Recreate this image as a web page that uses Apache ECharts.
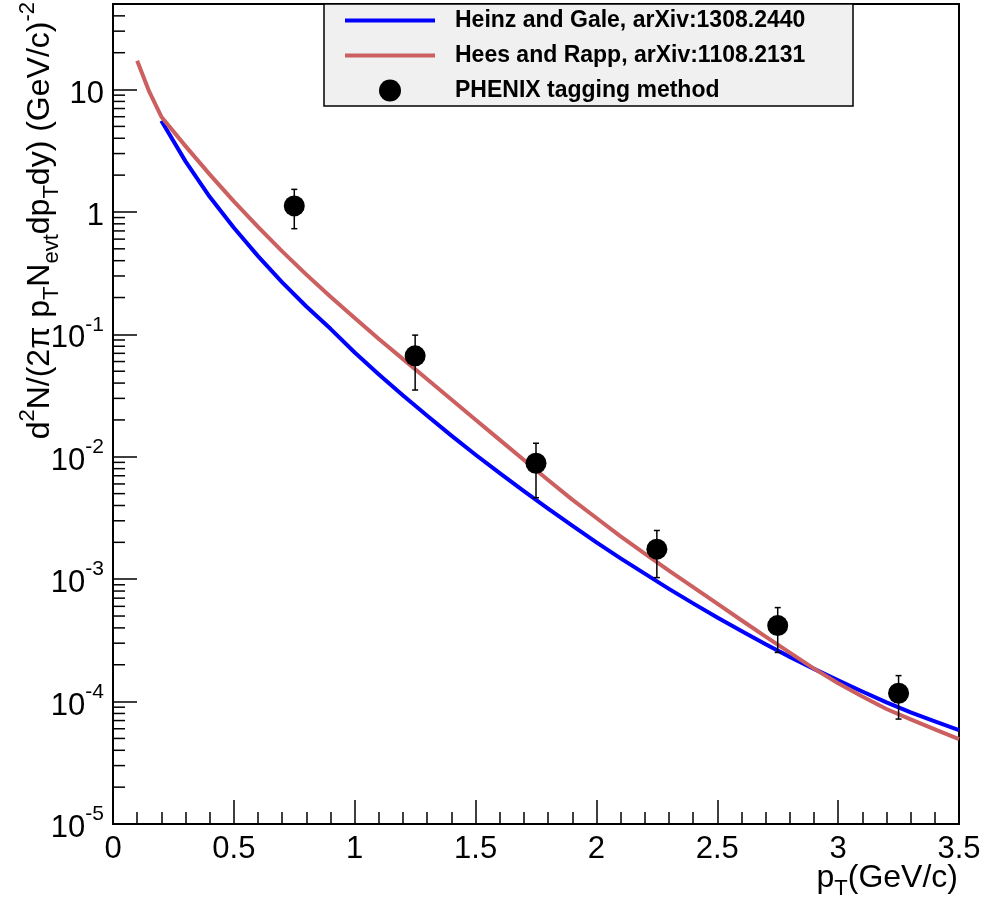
<!DOCTYPE html>
<html>
<head>
<meta charset="utf-8">
<script src="https://cdn.jsdelivr.net/npm/echarts@6/dist/echarts.min.js"></script>
<style>
html,body{margin:0;padding:0;background:#fff;}
#chart{width:986px;height:903px;}
</style>
</head>
<body>
<div id="chart"></div>
<script>
// ---- data ----
const heinzX = [0.2,0.3,0.4,0.5,0.6,0.7,0.8,0.9,1.0,1.1,1.2,1.3,1.4,1.5,1.6,1.7,1.8,1.9,2.0,2.1,2.2,2.3,2.4,2.5,2.6,2.7,2.8,2.9,3.0,3.1,3.2,3.3,3.4,3.5];
const heinzY = [5.56,2.59,1.33,0.743,0.436,0.266,0.169,0.111,0.0711,0.0470,0.0316,0.0216,0.0149,0.0104,0.00735,0.00524,0.00377,0.00274,0.00200,0.00148,0.00111,8.34e-4,6.34e-4,4.86e-4,3.77e-4,2.94e-4,2.32e-4,1.85e-4,1.49e-4,1.21e-4,9.86e-5,8.15e-5,6.90e-5,5.85e-5];
const heesX = [0.1,0.15,0.2,0.3,0.4,0.5,0.6,0.7,0.8,0.9,1.0,1.1,1.2,1.3,1.4,1.5,1.6,1.7,1.8,1.9,2.0,2.1,2.2,2.3,2.4,2.5,2.6,2.7,2.8,2.9,3.0,3.1,3.2,3.3,3.4,3.5];
const heesY = [17.2,9.6,6.0,3.45,2.03,1.22,0.755,0.476,0.308,0.203,0.136,0.0918,0.0628,0.0430,0.0294,0.0201,0.01374,0.00940,0.00646,0.00447,0.00316,0.00224,0.00162,1.175e-3,8.61e-4,6.31e-4,4.62e-4,3.39e-4,2.51e-4,1.86e-4,1.41e-4,1.10e-4,8.7e-5,7.16e-5,5.92e-5,4.94e-5];
const phenixX = [0.75,1.25,1.75,2.25,2.75,3.25];
const phenixY = [1.12,0.0668,0.00885,0.00176,4.18e-4,1.17e-4];
const phenixLow = [0.73,0.0351,0.00463,0.00103,2.52e-4,7.2e-5];
const phenixHigh = [1.53,0.0986,0.0129,0.00250,5.86e-4,1.63e-4];
const seriesNames = ['Heinz and Gale, arXiv:1308.2440','Hees and Rapp, arXiv:1108.2131','PHENIX tagging method'];
const xTitle = ['p','T','(GeV/c)'];
const yMin = 1e-5, yMax = 50;
const xMin = 0, xMax = 3.5, xStep = 0.5;
// minor tick values on the log axis
const yMinorTicks = [];
for (let k = -5; k <= 1; k++) for (let m = 2; m <= 9; m++) { const v = m * Math.pow(10, k); if (v < yMax) yMinorTicks.push(v); }

const FONT = 'Liberation Sans, Arial, Helvetica, sans-serif';
const zip = (xs, ys) => xs.map((x, i) => [x, ys[i]]);
const BLUE = '#0000ff', RED = '#cc5f5f';

const chart = echarts.init(document.getElementById('chart'));
const option = {
  animation: false,
  backgroundColor: '#fff',
  grid: { left: 113, right: 27, top: 4, bottom: 79, show: true, borderColor: '#000', borderWidth: 2, backgroundColor: 'transparent' },
  xAxis: {
    type: 'value', min: xMin, max: xMax, interval: xStep,
    axisLine: { show: true, onZero: false, lineStyle: { color: '#000', width: 2 } },
    axisTick: { show: true, inside: true, length: 24, lineStyle: { color: '#000', width: 1.5 } },
    minorTick: { show: true, splitNumber: 5, length: 12, lineStyle: { color: '#000', width: 1.5 } },
    axisLabel: { color: '#000', fontFamily: FONT, fontSize: 31, margin: 10 },
    splitLine: { show: false }
  },
  yAxis: {
    type: 'log', logBase: 10, min: yMin, max: yMax,
    axisLine: { show: true, lineStyle: { color: '#000', width: 2 } },
    axisTick: { show: true, inside: true, length: 24, lineStyle: { color: '#000', width: 1.5 } },
    axisLabel: {
      color: '#000', fontFamily: FONT, margin: 9,
      formatter: function (v) {
        const l = Math.log10(v); const k = Math.round(l);
        if (Math.abs(l - k) > 1e-6) return '';
        if (k === 0) return '{b|1}';
        if (k === 1) return '{b|10}';
        return '{b|10}{s|' + k + '}';
      },
      rich: {
        b: { fontSize: 31, fontFamily: FONT, color: '#000', lineHeight: 40, verticalAlign: 'bottom' },
        s: { fontSize: 21, fontFamily: FONT, color: '#000', lineHeight: 40, verticalAlign: 'top' }
      }
    },
    splitLine: { show: false }
  },
  legend: {
    orient: 'vertical', left: 343, top: 9, padding: 0, itemGap: 12,
    itemWidth: 90, itemHeight: 22, z: 10,
    data: [
      { name: seriesNames[0], itemStyle: { opacity: 0 }, lineStyle: { width: 4, color: BLUE } },
      { name: seriesNames[1], itemStyle: { opacity: 0 }, lineStyle: { width: 4, color: RED } },
      { name: seriesNames[2] }
    ],
    textStyle: { fontFamily: FONT, fontWeight: 'bold', fontSize: 23, color: '#000', padding: [0, 0, 0, 15], lineHeight: 22 }
  },
  graphic: {
    elements: [
      { type: 'rect', z: 3, shape: { x: 324, y: 4, width: 529, height: 102 }, style: { fill: '#f0f0f0', stroke: '#000', lineWidth: 1.5 } },
      {
        type: 'text', x: 40, y: 2, rotation: Math.PI / 2, z: 5,
        style: {
          text: '{m|d}{sp|2}{m|N/(2π p}{sb|T}{m|N}{sb|evt}{m|dp}{sb|T}{m|dy) (GeV/c)}{sp|-2}',
          align: 'right', verticalAlign: 'middle',
          rich: {
            m: { fontSize: 32, fontFamily: FONT, fill: '#000', lineHeight: 46, verticalAlign: 'middle' },
            sp: { fontSize: 22, fontFamily: FONT, fill: '#000', lineHeight: 46, verticalAlign: 'top' },
            sb: { fontSize: 22, fontFamily: FONT, fill: '#000', lineHeight: 46, verticalAlign: 'bottom' }
          }
        }
      },
      {
        type: 'text', x: 958, y: 878, z: 5,
        style: {
          text: '{m|' + xTitle[0] + '}{sb|' + xTitle[1] + '}{m|' + xTitle[2] + '}',
          align: 'right', verticalAlign: 'middle',
          rich: {
            m: { fontSize: 32, fontFamily: FONT, fill: '#000', lineHeight: 44, verticalAlign: 'middle' },
            sb: { fontSize: 22, fontFamily: FONT, fill: '#000', lineHeight: 44, verticalAlign: 'bottom' }
          }
        }
      }
    ]
  },
  series: [
    {
      name: seriesNames[0], type: 'line', data: zip(heinzX, heinzY), symbol: 'none', smooth: false,
      lineStyle: { color: BLUE, width: 4, join: 'round' }, itemStyle: { color: BLUE }, z: 2
    },
    {
      name: seriesNames[1], type: 'line', data: zip(heesX, heesY), symbol: 'none', smooth: false,
      lineStyle: { color: RED, width: 4, join: 'round' }, itemStyle: { color: RED }, z: 2
    },
    {
      name: 'minorY', type: 'custom', silent: true, z: 1, clip: false,
      data: yMinorTicks.map(v => [xMin, v]),
      renderItem: function (params, api) {
        const p = api.coord([api.value(0), api.value(1)]);
        return { type: 'line', shape: { x1: p[0], y1: p[1], x2: p[0] + 12, y2: p[1] }, style: { stroke: '#000', lineWidth: 1.5 } };
      }
    },
    {
      name: 'errors', type: 'custom', z: 3,
      data: phenixX.map((x, i) => [x, phenixLow[i], phenixHigh[i]]),
      renderItem: function (params, api) {
        const lo = api.coord([api.value(0), api.value(1)]);
        const hi = api.coord([api.value(0), api.value(2)]);
        const c = 3;
        return {
          type: 'group', children: [
            { type: 'line', shape: { x1: lo[0], y1: lo[1], x2: hi[0], y2: hi[1] }, style: { stroke: '#000', lineWidth: 1.5 } },
            { type: 'line', shape: { x1: lo[0] - c, y1: lo[1], x2: lo[0] + c, y2: lo[1] }, style: { stroke: '#000', lineWidth: 1.5 } },
            { type: 'line', shape: { x1: hi[0] - c, y1: hi[1], x2: hi[0] + c, y2: hi[1] }, style: { stroke: '#000', lineWidth: 1.5 } }
          ]
        };
      }
    },
    {
      name: seriesNames[2], type: 'scatter', data: zip(phenixX, phenixY), symbol: 'circle', symbolSize: 21,
      itemStyle: { color: '#000', opacity: 1 }, z: 4
    }
  ]
};
chart.setOption(option);
</script>
</body>
</html>
